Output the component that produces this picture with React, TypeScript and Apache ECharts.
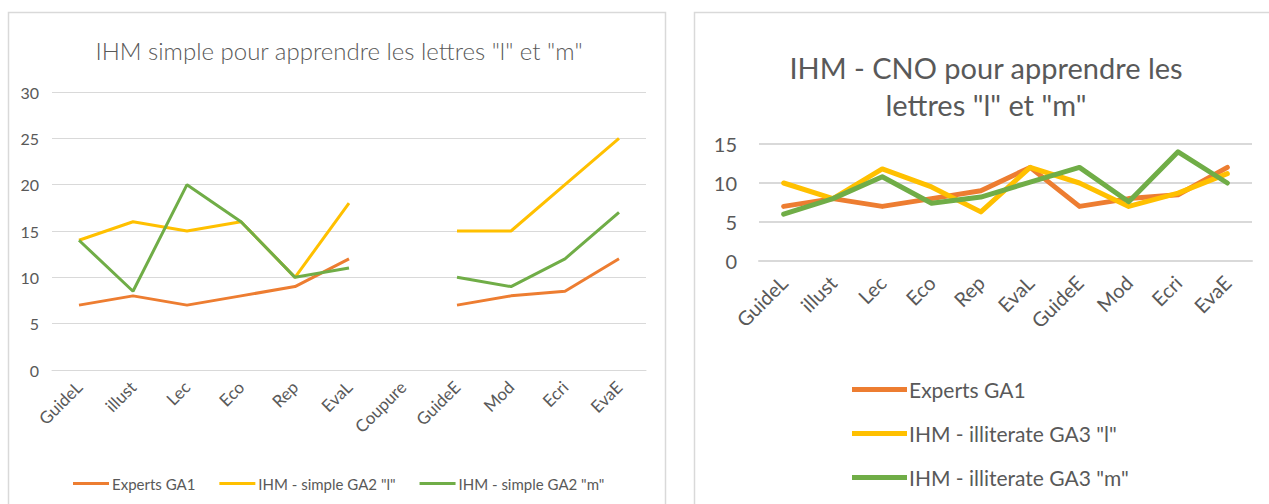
import React, { useEffect, useRef } from "react";
import * as echarts from "echarts";

// Left chart data
const leftCategories = ["GuideL", "illust", "Lec", "Eco", "Rep", "EvaL", "Coupure", "GuideE", "Mod", "Ecri", "EvaE"];
const leftExperts = [7, 8, 7, 8, 9, 12, null, 7, 8, 8.5, 12];
const leftSimpleL = [14, 16, 15, 16, 10, 18, null, 15, 15, 20, 25];
const leftSimpleM = [14, 8.5, 20, 16, 10, 11, null, 10, 9, 12, 17];
const leftYTicks = { min: 0, max: 30, interval: 5 };

// Right chart data
const rightCategories = ["GuideL", "illust", "Lec", "Eco", "Rep", "EvaL", "GuideE", "Mod", "Ecri", "EvaE"];
const rightExperts = [7, 8, 7, 8, 9, 12, 7, 8, 8.5, 12];
const rightIllitL = [10, 8, 11.8, 9.5, 6.3, 12, 10, 7, 8.7, 11.2];
const rightIllitM = [6, 8, 10.8, 7.4, 8.2, 10.1, 12, 7.6, 14, 10];
const rightYTicks = { min: 0, max: 15, interval: 5 };

const ORANGE = "#ED7D31";
const YELLOW = "#FFC000";
const GREEN = "#70AD47";
const TEXT = "#595959";
const GRID = "#D9D9D9";
const FONT = "Lato";

export default function App() {
  const ref = useRef<HTMLDivElement>(null);
  useEffect(() => {
    if (!ref.current) return;
    const chart = echarts.init(ref.current, null, { renderer: "svg" });
    const option: any = {
      animation: false,
      backgroundColor: "#ffffff",
      textStyle: { fontFamily: FONT, color: TEXT },
      graphic: [
        { type: "rect", shape: { x: 8.5, y: 12.5, width: 657, height: 500 }, style: { fill: "none", stroke: "#D9D9D9", lineWidth: 1.5 }, silent: true },
        { type: "rect", shape: { x: 694.5, y: 12.5, width: 600, height: 500 }, style: { fill: "none", stroke: "#D9D9D9", lineWidth: 1.5 }, silent: true },
      ],
      title: [
        {
          text: 'IHM simple pour apprendre les lettres "l" et "m"',
          left: 334,
          top: 33,
          textAlign: "center",
          textStyle: { fontFamily: FONT, fontSize: 24, fontWeight: 300, color: TEXT },
        },
        {
          text: 'IHM - CNO pour apprendre les\nlettres "l" et "m"',
          left: 981,
          top: 44,
          textAlign: "center",
          textStyle: { fontFamily: FONT, fontSize: 29, fontWeight: "normal", color: TEXT, lineHeight: 37 },
        },
      ],
      legend: [
        {
          left: 68,
          top: 471,
          orient: "horizontal",
          icon: "rect",
          itemWidth: 36,
          itemHeight: 3,
          itemGap: 24,
          data: ["Experts GA1", 'IHM - simple GA2 "l"', 'IHM - simple GA2 "m"'],
          textStyle: { fontFamily: FONT, fontSize: 15, color: TEXT, padding: [0, 0, 0, -2] },
        },
        {
          left: 847,
          top: 374,
          orient: "vertical",
          icon: "rect",
          itemWidth: 55,
          itemHeight: 5,
          itemGap: 23,
          data: ["Experts GA1 ", 'IHM - illiterate GA3 "l"', 'IHM - illiterate GA3 "m"'],
          textStyle: { fontFamily: FONT, fontSize: 21, color: TEXT, padding: [0, 0, 0, -3] },
        },
      ],
      grid: [
        { left: 52, right: 1269 - 646, top: 92, height: 278, containLabel: false },
        { left: 759, right: 1269 - 1252, top: 144, height: 117, containLabel: false },
      ],
      xAxis: [
        {
          type: "category",
          gridIndex: 0,
          data: leftCategories,
          boundaryGap: true,
          axisLine: { show: true, lineStyle: { color: GRID, width: 1 } },
          axisTick: { show: false },
          axisLabel: { rotate: 45, margin: 14, fontFamily: FONT, fontSize: 17, color: TEXT, interval: 0 },
        },
        {
          type: "category",
          gridIndex: 1,
          data: rightCategories,
          boundaryGap: true,
          axisLine: { show: true, lineStyle: { color: GRID, width: 2 } },
          axisTick: { show: false },
          axisLabel: { rotate: 45, margin: 18, fontFamily: FONT, fontSize: 20, color: TEXT, interval: 0 },
        },
      ],
      yAxis: [
        {
          type: "value",
          gridIndex: 0,
          min: leftYTicks.min,
          max: leftYTicks.max,
          interval: leftYTicks.interval,
          axisLine: { show: false },
          axisTick: { show: false },
          splitLine: { lineStyle: { color: GRID, width: 1 } },
          axisLabel: { margin: 13, fontFamily: FONT, fontSize: 16, color: TEXT },
        },
        {
          type: "value",
          gridIndex: 1,
          min: rightYTicks.min,
          max: rightYTicks.max,
          interval: rightYTicks.interval,
          axisLine: { show: false },
          axisTick: { show: false },
          splitLine: { lineStyle: { color: GRID, width: 2 } },
          axisLabel: { margin: 22, fontFamily: FONT, fontSize: 20, color: TEXT },
        },
      ],
      series: [
        { name: "Experts GA1", type: "line", xAxisIndex: 0, yAxisIndex: 0, data: leftExperts, symbol: "none", connectNulls: false, lineStyle: { color: ORANGE, width: 3 }, itemStyle: { color: ORANGE } },
        { name: 'IHM - simple GA2 "l"', type: "line", xAxisIndex: 0, yAxisIndex: 0, data: leftSimpleL, symbol: "none", connectNulls: false, lineStyle: { color: YELLOW, width: 3 }, itemStyle: { color: YELLOW } },
        { name: 'IHM - simple GA2 "m"', type: "line", xAxisIndex: 0, yAxisIndex: 0, data: leftSimpleM, symbol: "none", connectNulls: false, lineStyle: { color: GREEN, width: 3 }, itemStyle: { color: GREEN } },
        { name: "Experts GA1 ", type: "line", xAxisIndex: 1, yAxisIndex: 1, data: rightExperts, symbol: "none", lineStyle: { color: ORANGE, width: 5, cap: "round", join: "round" }, itemStyle: { color: ORANGE } },
        { name: 'IHM - illiterate GA3 "l"', type: "line", xAxisIndex: 1, yAxisIndex: 1, data: rightIllitL, symbol: "none", lineStyle: { color: YELLOW, width: 5, cap: "round", join: "round" }, itemStyle: { color: YELLOW } },
        { name: 'IHM - illiterate GA3 "m"', type: "line", xAxisIndex: 1, yAxisIndex: 1, data: rightIllitM, symbol: "none", lineStyle: { color: GREEN, width: 5, cap: "round", join: "round" }, itemStyle: { color: GREEN } },
      ],
    };
    chart.setOption(option);
    return () => chart.dispose();
  }, []);
  return <div ref={ref} style={{ position: "fixed", left: 0, top: 0, width: 1269, height: 504 }} />;
}
